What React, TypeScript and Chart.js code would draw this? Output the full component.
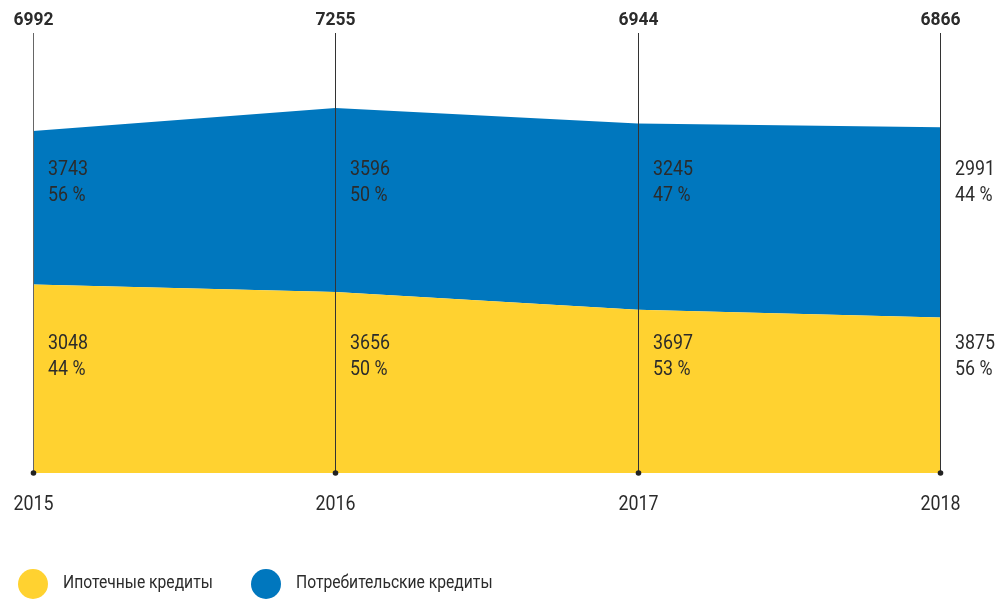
import React, { useEffect, useRef } from "react";
import { Chart, registerables } from "chart.js";

Chart.register(...registerables);

const years = ["2015", "2016", "2017", "2018"];
// values printed in the yellow band (mortgage) and in the blue band (consumer)
const mortgageCredits = [3048, 3656, 3697, 3875];
const mortgageShare = [44, 50, 53, 56];
const consumerCredits = [3743, 3596, 3245, 2991];
const consumerShare = [56, 50, 47, 44];
const totals = [6992, 7255, 6944, 6866];
const yellowBandDrawn = [3743, 3596, 3245, 3090];
const blueBandDrawn = [3048, 3656, 3697, 3776];
const legendLabels = ["Ипотечные кредиты", "Потребительские кредиты"];

const YELLOW = "#FFD230";
const BLUE = "#0077BE";
const TEXT = "#2b2b2b";
const FONT = "Roboto, 'Noto Sans', sans-serif";

function drawText(ctx: CanvasRenderingContext2D, text: string, x: number, y: number, size: number, bold: boolean, align: "left" | "center", sx = 0.89) {
  ctx.save();
  ctx.font = `${bold ? "bold " : ""}${size}px ${FONT}`;
  ctx.fillStyle = TEXT;
  ctx.textBaseline = "middle";
  const w = ctx.measureText(text).width * sx;
  const left = align === "center" ? x - w / 2 : x;
  ctx.translate(left, y);
  ctx.scale(sx, 1);
  ctx.textAlign = "left";
  ctx.fillText(text, 0, 0);
  ctx.restore();
}

const overlay = {
  id: "overlay",
  afterDatasetsDraw(chart: any) {
    const ctx: CanvasRenderingContext2D = chart.ctx;
    const xs = chart.scales.x;
    const area = chart.chartArea;
    years.forEach((yr, i) => {
      const x = Math.round(xs.getPixelForValue(i)) + 0.5;
      ctx.save();
      ctx.strokeStyle = i === 0 ? "#666" : "#333";
      ctx.lineWidth = 1;
      ctx.beginPath();
      ctx.moveTo(x, area.top);
      ctx.lineTo(x, area.bottom);
      ctx.stroke();
      ctx.fillStyle = "#222";
      ctx.beginPath();
      ctx.arc(x, area.bottom, 2.8, 0, Math.PI * 2);
      ctx.fill();
      ctx.restore();
      drawText(ctx, String(totals[i]), x, 20, 19, true, "center", 0.92);
      drawText(ctx, yr, x, 505, 20, false, "center");
      const lx = x + 14.5;
      drawText(ctx, String(consumerCredits[i]), lx, 170, 20, false, "left");
      drawText(ctx, `${consumerShare[i]} %`, lx, 196, 20, false, "left");
      drawText(ctx, String(mortgageCredits[i]), lx, 344, 20, false, "left");
      drawText(ctx, `${mortgageShare[i]} %`, lx, 370, 20, false, "left");
    });
    // legend
    const legend = [
      { label: legendLabels[0], color: YELLOW, cx: 33 },
      { label: legendLabels[1], color: BLUE, cx: 266 },
    ];
    legend.forEach((l) => {
      ctx.save();
      ctx.fillStyle = l.color;
      ctx.beginPath();
      ctx.arc(l.cx, 584, 15, 0, Math.PI * 2);
      ctx.fill();
      ctx.restore();
      drawText(ctx, l.label, l.cx + 30, 583, 18, false, "left", 0.87);
    });
  },
};

export default function App() {
  const ref = useRef<HTMLCanvasElement>(null);
  useEffect(() => {
    if (!ref.current) return;
    const chart = new Chart(ref.current, {
      type: "line",
      data: {
        labels: years,
        datasets: [
          {
            label: legendLabels[0],
            data: yellowBandDrawn,
            backgroundColor: YELLOW,
            borderWidth: 0,
            pointRadius: 0,
            fill: "origin",
            tension: 0,
          },
          {
            label: legendLabels[1],
            data: blueBandDrawn,
            backgroundColor: BLUE,
            borderWidth: 0,
            pointRadius: 0,
            fill: "-1",
            tension: 0,
          },
        ],
      },
      options: {
        responsive: false,
        animation: false,
        layout: { padding: { left: 33, right: 65, top: 33, bottom: 126 } },
        plugins: { legend: { display: false }, tooltip: { enabled: false } },
        scales: {
          x: { display: false, offset: false },
          y: { display: false, stacked: true, min: 0, max: 8740 },
        },
      },
      plugins: [overlay],
    });
    return () => chart.destroy();
  }, []);
  return (
    <div style={{ position: "fixed", left: 0, top: 0, width: 1005, height: 599, background: "#fff" }}>
      <canvas ref={ref} width={1005} height={599} />
    </div>
  );
}
